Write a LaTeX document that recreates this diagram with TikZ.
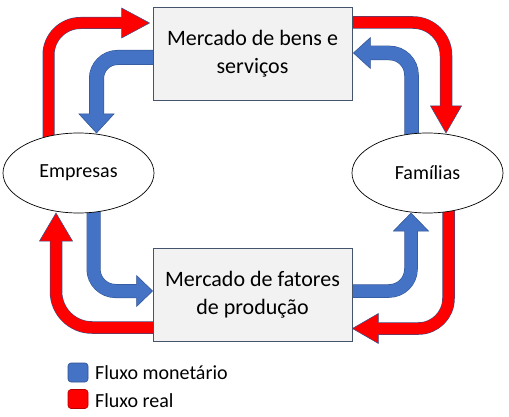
\documentclass[tikz,border=0pt]{standalone}
\usepackage{fontspec}
\setmainfont{Carlito}
\usetikzlibrary{calc,backgrounds,shapes.geometric}
\definecolor{monc}{HTML}{4472C4}
\definecolor{realc}{HTML}{FF0000}
\definecolor{edgec}{HTML}{2F528F}
\definecolor{boxfill}{HTML}{F2F2F2}
\definecolor{boxedge}{HTML}{44546A}
% #1 colour, #2 shaft width, #3 half head width, #4 radius, #5 start, #6 op, #7 head base, #8 tip
\newcommand\flowarrow[8]{%
  \draw[line width=#2pt+1pt, draw=edgec, rounded corners=#4pt] (#5) #6 (#7);
  \filldraw[fill=#1, draw=edgec, line width=0.5pt, line join=miter]
    ($(#7)!#3pt!90:(#8)$) -- (#8) -- ($(#7)!#3pt!-90:(#8)$) -- cycle;
  \draw[line width=#2pt, draw=#1, rounded corners=#4pt] (#5) #6 ($(#7)!1.5pt!(#8)$);
}
\begin{document}
\begin{tikzpicture}[x=1pt,y=-1pt,
  mkt/.style={draw=boxedge, line width=0.8pt, fill=boxfill, rectangle,
    minimum width=199pt, minimum height=93pt, inner sep=0pt, align=center,
    font=\fontsize{22}{28}\selectfont},
  agent/.style={draw=black, line width=0.7pt, fill=white, ellipse,
    minimum width=151pt, minimum height=80pt, inner sep=0pt,
    font=\fontsize{20}{24}\selectfont},
  legsq/.style={rectangle, rounded corners=3pt, minimum width=20pt,
    minimum height=19pt, inner sep=0pt, line width=0.6pt},
  legtxt/.style={inner sep=0pt, font=\fontsize{20}{24}\selectfont}]
\useasboundingbox (0,0) rectangle (509,417);
\node[mkt] (mbs) at (252.5,53.5) {Mercado de bens e\\serviços};
\node[mkt] (mfp) at (252.5,295) {Mercado de fatores\\de produção};
\node[agent] (emp) at (78.5,173) {Empresas};
\node[agent] (fam) at (427.5,173) {Famílias};
% connector end points
\coordinate (a1s) at ([xshift=-30pt]emp.center);
\coordinate (a1t) at ([xshift=-3pt,yshift=30.5pt]mbs.west);
\coordinate (a1b) at ([xshift=-28pt]a1t);
\coordinate (a2s) at ([xshift=10pt,yshift=-4pt]mbs.west);
\coordinate (a2t) at ([xshift=18pt,yshift=40pt]emp.center);
\coordinate (a2b) at ([yshift=19pt]a2t);
\coordinate (a3s) at ([xshift=-10pt,yshift=31pt]mbs.east);
\coordinate (a3t) at ([xshift=18.5pt,yshift=40pt]fam.center);
\coordinate (a3b) at ([yshift=27pt]a3t);
\coordinate (a4s) at ([xshift=-16pt]fam.center);
\coordinate (a4t) at ([xshift=1pt,yshift=0.5pt]mbs.east);
\coordinate (a4b) at ([xshift=17pt]a4t);
\coordinate (a5s) at ([xshift=15pt]emp.center);
\coordinate (a5t) at ([yshift=4pt]mfp.west);
\coordinate (a5b) at ([xshift=-16pt]a5t);
\coordinate (a6s) at ([xshift=10pt,yshift=-32.5pt]mfp.west);
\coordinate (a6t) at ([xshift=-22.5pt,yshift=-40pt]emp.center);
\coordinate (a6b) at ([yshift=-28pt]a6t);
\coordinate (a7s) at ([xshift=-10pt,yshift=4pt]mfp.east);
\coordinate (a7t) at ([xshift=-16.5pt,yshift=-40pt]fam.center);
\coordinate (a7b) at ([yshift=-18pt]a7t);
\coordinate (a8s) at ([xshift=21pt]fam.center);
\coordinate (a8t) at ([yshift=-33.5pt]mfp.east);
\coordinate (a8b) at ([xshift=26pt]a8t);
\begin{pgfonlayer}{background}
\flowarrow{realc}{11}{15}{32}{a1s}{|-}{a1b}{a1t}
\flowarrow{monc}{14}{17.5}{21}{a2s}{-|}{a2b}{a2t}
\flowarrow{realc}{11.5}{15.5}{33}{a3s}{-|}{a3b}{a3t}
\flowarrow{monc}{13.5}{15.5}{22}{a4s}{|-}{a4b}{a4t}
\flowarrow{monc}{13}{15.5}{22}{a5s}{|-}{a5b}{a5t}
\flowarrow{realc}{11.5}{16.5}{36}{a6s}{-|}{a6b}{a6t}
\flowarrow{monc}{12.5}{17.5}{22}{a7s}{-|}{a7b}{a7t}
\flowarrow{realc}{11.5}{15}{30}{a8s}{|-}{a8b}{a8t}
\end{pgfonlayer}
% legend
\node[legsq, fill=monc, draw=edgec] (lgm) at (78,372.5) {};
\node[legsq, fill=realc, draw=realc!70!black] (lgr) at (78,399) {};
\node[legtxt, anchor=base west] (lgmt) at (95,379) {Fluxo monetário};
\node[legtxt, anchor=base west] (lgrt) at (95,407) {Fluxo real};
\end{tikzpicture}
\end{document}
